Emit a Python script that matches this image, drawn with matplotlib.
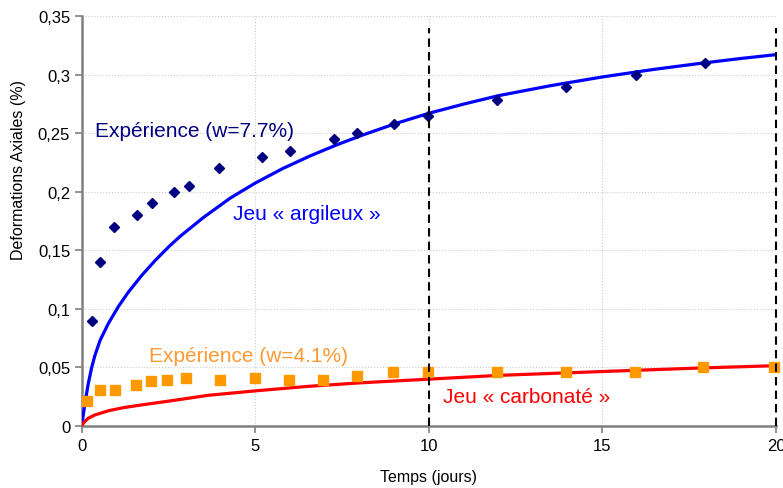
import numpy as np
import matplotlib.pyplot as plt
from matplotlib.ticker import FuncFormatter

plt.rcParams['font.family'] = ['Liberation Sans', 'DejaVu Sans']

# measured points, clay sample (w=7.7%)
t_arg = [0.29, 0.52, 0.92, 1.58, 2.02, 2.65, 3.08, 3.95, 5.19, 6.0, 7.26, 7.92,
         8.99, 9.97, 11.96, 13.95, 15.96, 17.95]
eps_arg = [0.09, 0.14, 0.17, 0.18, 0.19, 0.20, 0.205, 0.22, 0.23, 0.235, 0.245,
           0.25, 0.258, 0.265, 0.278, 0.289, 0.30, 0.31]

# measured points, carbonate sample (w=4.1%)
t_carb = [0.14, 0.52, 0.95, 1.56, 2.0, 2.46, 3.0, 3.97, 4.99, 5.97, 6.95, 7.93,
          8.97, 9.97, 11.96, 13.95, 15.95, 17.9, 19.95]
eps_carb = [0.021, 0.031, 0.031, 0.035, 0.038, 0.039, 0.041, 0.039, 0.041, 0.039,
            0.039, 0.0427, 0.046, 0.046, 0.046, 0.046, 0.046, 0.050, 0.050]

# model curves
t_fit_arg = [0, 0.03, 0.09, 0.18, 0.28, 0.37, 0.52, 0.76, 1.05, 1.33, 1.72, 2.1,
             2.5, 2.82, 3.5, 4.27, 5.0, 5.8, 6.57, 7.34, 8.1, 9.07, 10.0, 11.0,
             12.0, 13.5, 15.0, 16.5, 17.8, 19.0, 20.0]
eps_fit_arg = [0, 0.008, 0.020, 0.036, 0.050, 0.060, 0.073, 0.0875, 0.102, 0.114,
               0.1285, 0.141, 0.153, 0.1617, 0.178, 0.1945, 0.2075, 0.220, 0.2305,
               0.240, 0.2485, 0.2585, 0.267, 0.2748, 0.282, 0.2905, 0.298, 0.3045,
               0.3095, 0.3138, 0.317]

t_fit_carb = [0, 0.04, 0.18, 0.37, 0.76, 1.2, 1.72, 2.68, 3.64, 5.0, 6.5, 8.0,
              10.0, 12.0, 15.0, 17.8, 20.0]
eps_fit_carb = [0, 0.0025, 0.0066, 0.0094, 0.013, 0.0157, 0.018, 0.022, 0.0262,
                0.030, 0.0338, 0.0368, 0.040, 0.0432, 0.0465, 0.0495, 0.0515]

x_ticks = [0, 5, 10, 15, 20]
y_ticks = [0, 0.05, 0.1, 0.15, 0.2, 0.25, 0.3, 0.35]
vlines = [10, 20]

fig = plt.figure(figsize=(7.83, 4.89), dpi=100)
ax = fig.add_axes([0.1047, 0.1268, 0.8863, 0.8384])
ax.set_xlim(0, 20)
ax.set_ylim(0, 0.35)

ax.plot(t_fit_arg, eps_fit_arg, color='#0000FF', lw=2.3, zorder=3)
ax.plot(t_fit_carb, eps_fit_carb, color='#FF0000', lw=2.3, zorder=3)
ax.plot(t_arg, eps_arg, 'D', color='#000080', ms=5.5, zorder=4, clip_on=False)
ax.plot(t_carb, eps_carb, 's', color='#FF9900', ms=6.5, zorder=4, clip_on=False)

for xv in vlines:
    ax.plot([xv, xv], [0, 0.34], color='black', lw=1.5, dashes=(4, 2.5),
            zorder=5, clip_on=False)

ax.text(0.37, 0.2526, 'Expérience (w=7.7%)', color='#000080', fontsize=15,
        va='center', ha='left')
ax.text(4.35, 0.181, 'Jeu « argileux »', color='#0000FF', fontsize=15,
        va='center', ha='left')
ax.text(1.93, 0.0606, 'Expérience (w=4.1%)', color='#FF9933', fontsize=15,
        va='center', ha='left')
ax.text(10.4, 0.0256, 'Jeu « carbonaté »', color='#FF0000', fontsize=15,
        va='center', ha='left')

ax.set_xticks(x_ticks)
ax.set_yticks(y_ticks)
ax.yaxis.set_major_formatter(FuncFormatter(lambda v, p: ('%g' % round(v, 2)).replace('.', ',')))
ax.tick_params(labelsize=12, color='#808080', length=5, width=1.2, direction='out')
ax.grid(True, color='#CCCCCC', lw=0.8, ls=':')
ax.set_axisbelow(True)

for s in ['top', 'right']:
    ax.spines[s].set_visible(False)
for s in ['left', 'bottom']:
    ax.spines[s].set_color('#808080')
    ax.spines[s].set_linewidth(1.8)

ax.set_xlabel('Temps (jours)', fontsize=11.5, labelpad=12)
ax.set_ylabel('Deformations Axiales (%)', fontsize=11.5)
ax.yaxis.set_label_coords(-0.081, 0.627)

fig.savefig('out.png', dpi=100)
